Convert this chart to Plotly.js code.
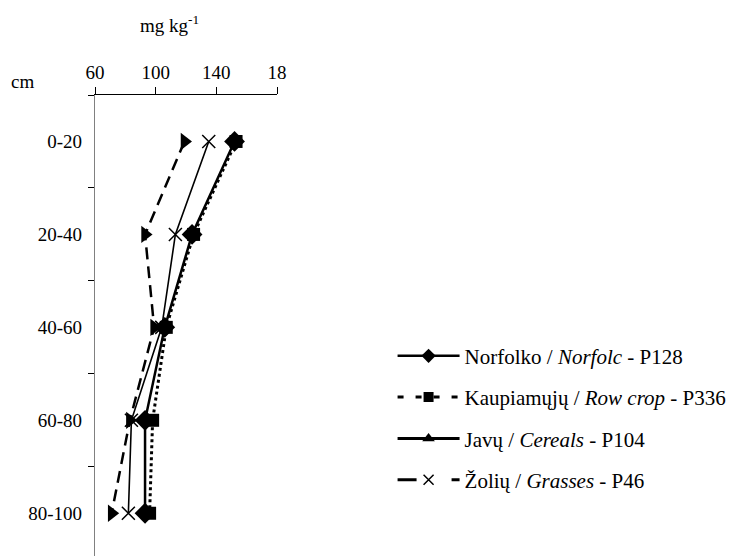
<!DOCTYPE html>
<html>
<head>
<meta charset="utf-8">
<script src="https://cdn.plot.ly/plotly-3.0.1.min.js"></script>
<style>html,body{margin:0;padding:0;background:#fff;}</style>
</head>
<body>
<div id="chart" style="width:742px;height:556px;"></div>
<script>
// Depth categories (cm)
var depths = ['0-20', '20-40', '40-60', '60-80', '80-100'];
// Values, mg kg-1
var norfolk = [152, 124, 106, 93, 93];
var rowCrop = [153, 125, 107, 98, 96];
var cereals = [119, 93, 99, 83, 71];
var grasses = [135, 113, 104, 84, 82];
// Series names
var names = [
  'Norfolko / <i>Norfolc</i> - P128',
  'Kaupiamųjų / <i>Row crop</i> - P336',
  'Javų / <i>Cereals</i> - P104',
  'Žolių / <i>Grasses</i> - P46'
];
// X tick labels
var xTickVals = [60, 100, 140, 180];
var xTickText = ['60', '100', '140', '18'];

var FONT = 'Liberation Serif, Times New Roman, serif';

var traces = [
  {x: norfolk, y: depths, mode: 'lines+markers', showlegend: false,
   line: {color: '#000', width: 2.5, dash: 'solid'},
   marker: {symbol: 'diamond', size: 16, color: '#000'}},
  {x: rowCrop, y: depths, mode: 'lines+markers', showlegend: false,
   line: {color: '#000', width: 3, dash: 'dot'},
   marker: {symbol: 'square', size: 13, color: '#000'}},
  {x: cereals, y: depths, mode: 'lines+markers', showlegend: false,
   line: {color: '#000', width: 2.5, dash: '12px,7px'},
   marker: {symbol: 'triangle-right', size: 15, color: '#000'}},
  {x: grasses, y: depths, mode: 'lines+markers', showlegend: false,
   line: {color: '#000', width: 1.6, dash: 'solid'},
   marker: {symbol: 'x-thin-open', size: 13, color: '#000', line: {color: '#000', width: 1.5}}},
  // legend entries
  {x: [null], y: [null], mode: 'lines+markers', name: names[0], legendgroup: 'a',
   line: {color: '#000', width: 2.5}, marker: {symbol: 'diamond', size: 11, color: '#000'}},
  {x: [null], y: [null], mode: 'lines+markers', name: names[1], legendgroup: 'b',
   line: {color: '#000', width: 3, dash: '6px,12px'}, marker: {symbol: 'square', size: 10, color: '#000'}},
  {x: [null], y: [null], mode: 'lines+markers', name: names[2], legendgroup: 'c',
   line: {color: '#000', width: 3}, marker: {symbol: 'triangle-up', size: 11, color: '#000'}},
  {x: [null], y: [null], mode: 'lines+markers', name: names[3], legendgroup: 'd',
   line: {color: '#000', width: 3, dash: '19px,35px,8px'},
   marker: {symbol: 'x-thin-open', size: 10, color: '#000', line: {color: '#000', width: 1.5}}}
];

var layout = {
  width: 742, height: 556,
  margin: {l: 95, r: 465, t: 95, b: 0},
  paper_bgcolor: '#fff', plot_bgcolor: '#fff',
  font: {family: FONT, size: 19, color: '#000'},
  xaxis: {
    range: [60, 180], side: 'top',
    tickvals: xTickVals, ticktext: xTickText,
    ticks: 'outside', ticklen: 7, tickcolor: '#000', tickwidth: 1,
    showline: true, linecolor: '#000', linewidth: 1,
    showgrid: false, zeroline: false,
    tickfont: {family: FONT, size: 19, color: '#000'}
  },
  yaxis: {
    type: 'category', categoryarray: depths, categoryorder: 'array',
    range: [4.46, -0.5],
    tickson: 'boundaries',
    ticks: 'outside', ticklen: 6, tickcolor: '#000', tickwidth: 1,
    showline: true, linecolor: '#808080', linewidth: 1.2,
    showgrid: false, zeroline: false,
    ticklabelstandoff: 8,
    tickfont: {family: FONT, size: 19, color: '#000'}
  },
  showlegend: true,
  legend: {
    x: 1.635, xanchor: 'left', y: 0.478, yanchor: 'top',
    itemwidth: 62, tracegroupgap: 11,
    font: {family: FONT, size: 21, color: '#000'},
    bgcolor: 'rgba(0,0,0,0)'
  },
  annotations: [
    {text: 'mg kg<sup>-1</sup>', xref: 'paper', yref: 'paper', x: 0.407, y: 1.154,
     xanchor: 'center', yanchor: 'middle', showarrow: false,
     font: {family: FONT, size: 19, color: '#000'}},
    {text: 'cm', xref: 'paper', yref: 'paper', x: -0.396, y: 1.03,
     xanchor: 'center', yanchor: 'middle', showarrow: false,
     font: {family: FONT, size: 19, color: '#000'}}
  ]
};

Plotly.newPlot('chart', traces, layout, {displayModeBar: false, staticPlot: true});
</script>
</body>
</html>
